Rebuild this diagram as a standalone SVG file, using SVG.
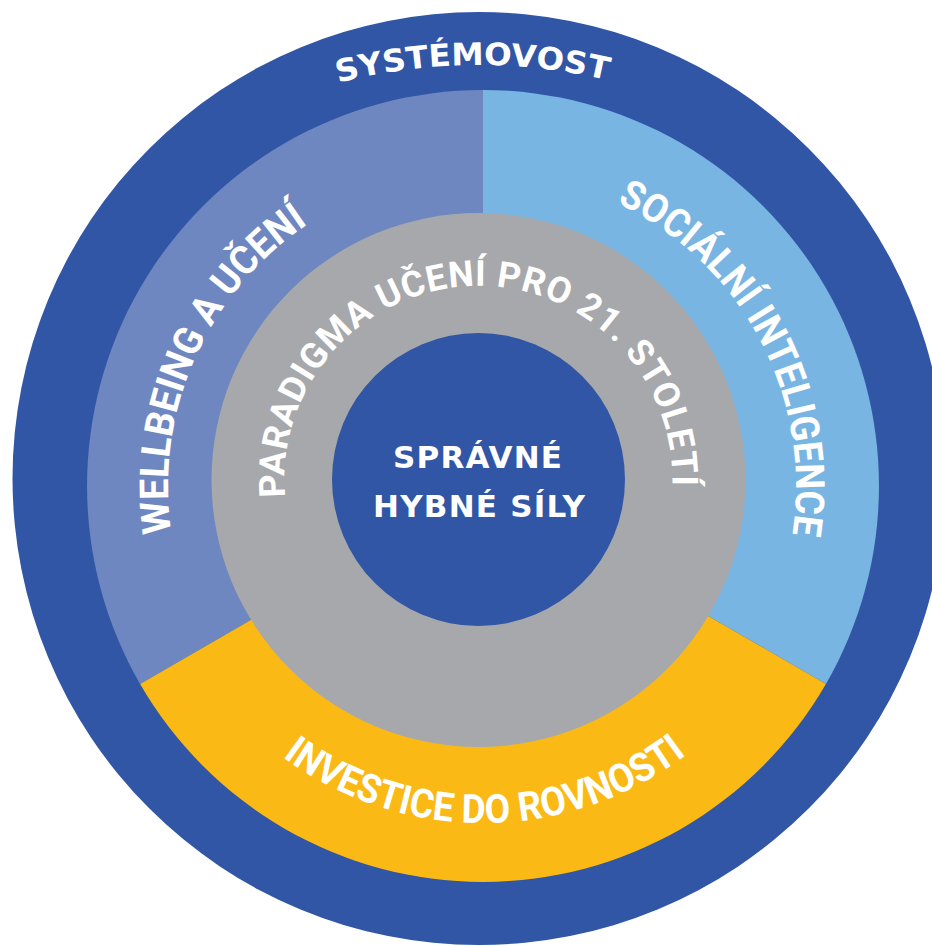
<svg xmlns="http://www.w3.org/2000/svg" width="932" height="946" viewBox="0 0 932 946">
  <style>
    .t { fill: #ffffff; font-family: Roboto, "Liberation Sans", "DejaVu Sans", sans-serif; font-weight: 700; }
    .w { font-family: "DejaVu Sans", "Liberation Sans", sans-serif; }
    .big { font-size: 40px; }
    .mid { font-size: 36px; }
    .sm { font-size: 31px; }
    .ctr { font-size: 31px; }
  </style>
  <defs>
    <path id="pSys" d="M338,82.9 A560,560 0 0 1 612,81.1"/>
    <path id="pWell" d="M171.5,532.6 A315,315 0 0 1 310.1,222.7"/>
    <path id="pSoc" d="M616.8,203 A313,313 0 0 1 791.8,537.1"/>
    <path id="pInv" d="M282.6,756.9 A337,337 0 0 0 688.2,753.4"/>
    <path id="pPar" d="M285.2,496.9 A194,194 0 1 1 672.2,489.8"/>
  </defs>
  <rect x="0" y="0" width="932" height="946" fill="#ffffff"/>

  <g id="systemovost">
    <circle cx="479" cy="478.5" r="466.5" fill="#3056a5"/>
    <text class="t w sm"><textPath href="#pSys" textLength="272" lengthAdjust="spacingAndGlyphs">SYSTÉMOVOST</textPath></text>
  </g>

  <g id="wellbeing">
    <path d="M483,486 L483,90 A396,396 0 0 0 140.1,684 Z" fill="#6e87c0"/>
    <text class="t big"><textPath href="#pWell" textLength="356" lengthAdjust="spacingAndGlyphs">WELLBEING A UČENÍ</textPath></text>
  </g>

  <g id="socialni">
    <path d="M483,486 L483,90 A396,396 0 0 1 825.9,684 Z" fill="#78b5e2"/>
    <text class="t big"><textPath href="#pSoc" textLength="402" lengthAdjust="spacingAndGlyphs">SOCIÁLNÍ INTELIGENCE</textPath></text>
  </g>

  <g id="investice">
    <path d="M483,486 L140.1,684 A396,396 0 0 0 825.9,684 Z" fill="#fbb915"/>
    <text class="t big"><textPath href="#pInv" textLength="433" lengthAdjust="spacingAndGlyphs">INVESTICE DO ROVNOSTI</textPath></text>
  </g>

  <g id="paradigma">
    <circle cx="478.5" cy="480" r="267" fill="#a7a8ab"/>
    <text class="t mid"><textPath href="#pPar" textLength="632" lengthAdjust="spacing">PARADIGMA UČENÍ PRO 21. STOLETÍ</textPath></text>
  </g>

  <g id="hybne-sily">
    <circle cx="478.5" cy="479.5" r="146.5" fill="#3056a5"/>
    <text class="t w ctr" x="393" y="468" textLength="169" lengthAdjust="spacing">SPRÁVNÉ</text>
    <text class="t w ctr" x="373" y="517" textLength="212" lengthAdjust="spacing">HYBNÉ SÍLY</text>
  </g>

  <g id="connectors"></g>
</svg>
